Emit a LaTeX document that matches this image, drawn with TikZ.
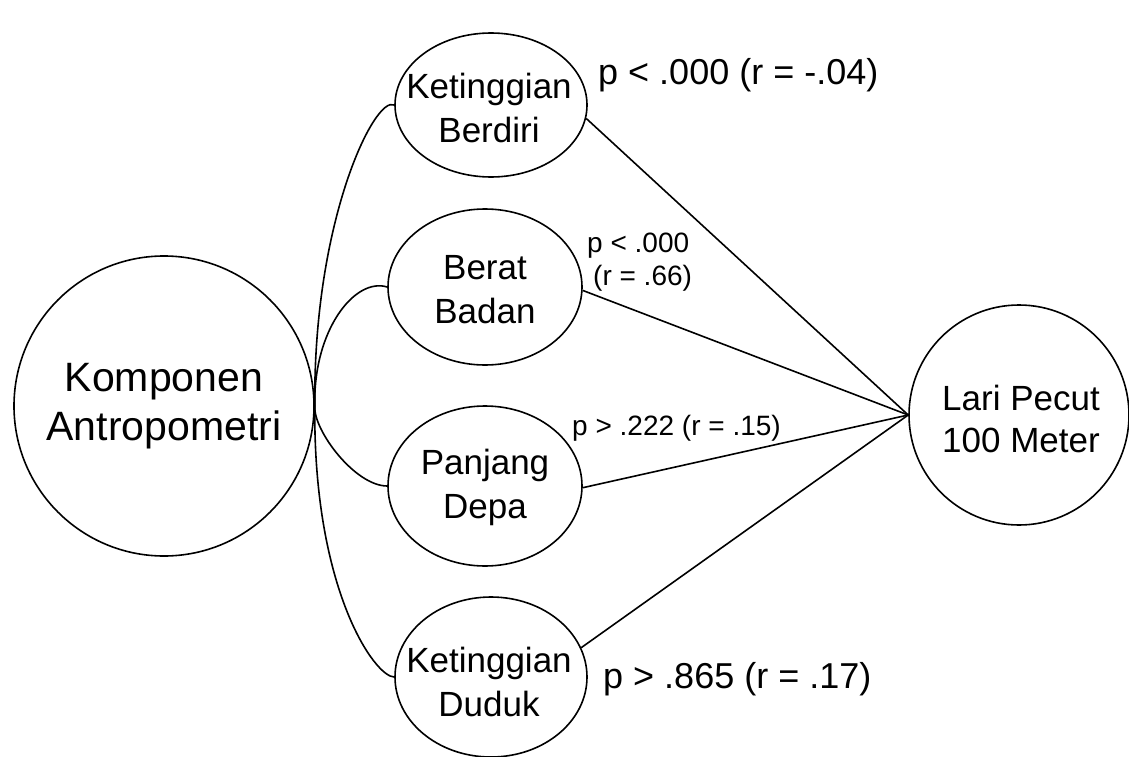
\documentclass[tikz,border=0pt]{standalone}
\usepackage{fontspec}
\setmainfont{Liberation Sans}
\usetikzlibrary{shapes.geometric}
\begin{document}
\begin{tikzpicture}[x=1pt,y=-1pt,
  ell/.style={draw, ellipse, line width=1.6pt, inner sep=0pt},
  circ/.style={draw, circle, line width=1.6pt, inner sep=0pt},
  ntext/.style={align=center, font=\fontsize{35}{44}\selectfont, inner sep=0pt},
  btext/.style={align=center, font=\fontsize{41}{49}\selectfont, inner sep=0pt},
  lbig/.style={anchor=base west, font=\fontsize{36}{42}\selectfont, inner sep=0pt},
  lsmall/.style={anchor=base west, font=\fontsize{28}{33}\selectfont, inner sep=0pt},
  conn/.style={line width=1.6pt}]
\useasboundingbox (0,0) rectangle (1129,757);

% nodes
\node[circ, minimum size=300pt] (kp) at (164,406) {};
\node[btext] (kpt) at (kp) {Komponen\\Antropometri};

\node[ell, minimum width=192pt, minimum height=144pt] (kb) at (491,105) {};
\node[ntext] (kbt) at (489,108) {Ketinggian\\Berdiri};

\node[ell, minimum width=194pt, minimum height=156pt] (bb) at (485,287) {};
\node[ntext] (bbt) at (485,290) {Berat\\Badan};

\node[ell, minimum width=194pt, minimum height=160pt] (pd) at (485,486) {};
\node[ntext] (pdt) at (485,487) {Panjang\\Depa};

\node[ell, minimum width=192pt, minimum height=160pt] (kd) at (491,677) {};
\node[ntext] (kdt) at (489,682) {Ketinggian\\Duduk};

\node[circ, minimum size=220pt] (lp) at (1019,415) {};
\node[ntext, font=\fontsize{35}{42}\selectfont] (lpt) at (1021,419) {Lari Pecut\\100 Meter};

% curved connectors from the left circle
\draw[conn] (kp.east) .. controls (313,220) and (375,95) .. (kb.west);
\draw[conn] (kp.east) .. controls (313,330) and (355,277) .. (bb.west);
\draw[conn] (kp.east) .. controls (313,430) and (355,486) .. (pd.west);
\draw[conn] (kp.east) .. controls (313,590) and (375,677) .. (kd.west);

% straight connectors to the right circle
\draw[conn] (kb.-8) -- (lp.west);
\draw[conn] (bb.-2) -- (lp.west);
\draw[conn] (pd.-1) -- (lp.west);
\draw[conn] (kd.18) -- (lp.west);

% labels
\node[lbig] (l1) at (598,85) {p < .000 (r = -.04)};
\node[lsmall] (l2a) at (587,252) {p < .000};
\node[lsmall] (l2b) at (593,285) {(r = .66)};
\node[lsmall] (l3) at (572,435) {p > .222 (r = .15)};
\node[lbig] (l4) at (603,688) {p > .865 (r = .17)};
\end{tikzpicture}
\end{document}
